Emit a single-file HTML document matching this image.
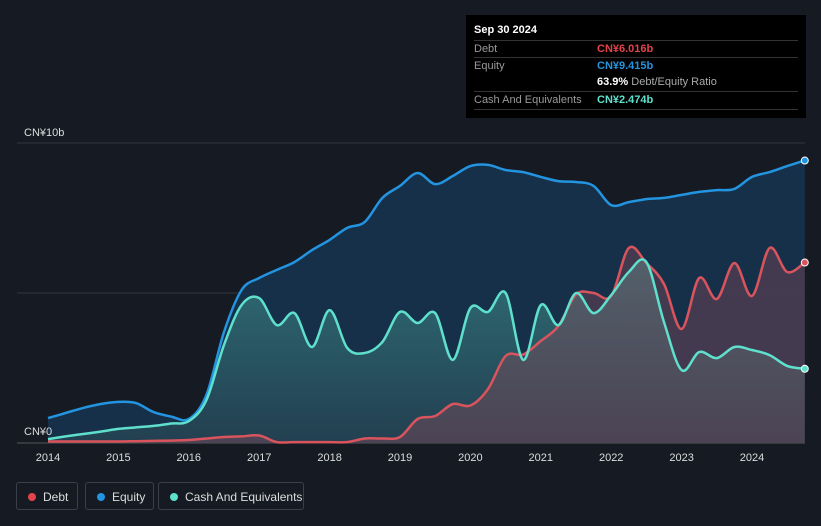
<!DOCTYPE html>
<html><head><meta charset="utf-8"><style>
body{margin:0;background:#151a23;font-family:"Liberation Sans","Noto Sans CJK SC",sans-serif;}
#wrap{position:relative;width:821px;height:526px;overflow:hidden;background:#151a23}
.tt{position:absolute;left:466px;top:15px;width:340px;height:103px;background:#000;color:#fff;font-size:11px}
.tt .row{position:absolute;left:8px;width:324px;border-top:1px solid #333;height:17px;line-height:17px;color:#999}
.tt .v{position:absolute;left:123px}
.leg{position:absolute;top:482px;height:28px;border:1px solid #3a404a;border-radius:3px;color:#ddd;font-size:12px;line-height:28px;box-sizing:border-box;padding-left:26px}
.leg i{position:absolute;left:11px;top:10px;width:8px;height:8px;border-radius:50%}
</style></head><body>
<div id="wrap">
<svg id="svg" width="821" height="526" style="position:absolute;left:0;top:0"></svg>
<div class="tt">
<div style="position:absolute;left:8px;top:9px;font-weight:bold;font-size:11px">Sep 30 2024</div>
<div class="row" style="top:25px">Debt<span class="v" style="color:#e5434a;font-weight:bold">CN¥6.016b</span></div>
<div class="row" style="top:42px">Equity<span class="v" style="color:#2394df;font-weight:bold">CN¥9.415b</span></div>
<div class="row" style="top:59px;border-top:none"><span class="v" style="color:#fff"><b>63.9%</b> <span style="color:#aaa">Debt/Equity Ratio</span></span></div>
<div class="row" style="top:76px">Cash And Equivalents<span class="v" style="color:#5ee0cc;font-weight:bold">CN¥2.474b</span></div>
<div class="row" style="top:94px;height:0"></div>
</div>
<div class="leg" style="left:16px;width:62px"><i style="background:#e5434a"></i>Debt</div>
<div class="leg" style="left:85px;width:69px"><i style="background:#2394df"></i>Equity</div>
<div class="leg" style="left:158px;width:146px"><i style="background:#5ee0cc"></i>Cash And Equivalents</div>
</div>
<script>
const times=[];for(let t=2014;t<=2024.76;t+=0.25)times.push(+t.toFixed(2));
const equity=[0.83,1.0,1.17,1.3,1.37,1.33,1.03,0.88,0.8,1.6,3.7,5.1,5.5,5.77,6.03,6.43,6.77,7.17,7.37,8.17,8.57,9.0,8.63,8.9,9.23,9.27,9.1,9.03,8.87,8.73,8.7,8.57,7.93,8.03,8.13,8.17,8.27,8.37,8.43,8.47,8.87,9.03,9.23,9.415];
const cash=[0.13,0.22,0.3,0.38,0.47,0.52,0.57,0.65,0.73,1.43,3.27,4.6,4.83,3.93,4.33,3.2,4.43,3.17,3.0,3.37,4.37,4.0,4.33,2.77,4.5,4.37,5.0,2.77,4.6,3.93,5.0,4.33,4.93,5.7,6.03,4.03,2.43,3.03,2.83,3.2,3.1,2.93,2.57,2.474];
const debt=[0.05,0.05,0.05,0.05,0.05,0.06,0.07,0.08,0.1,0.15,0.2,0.22,0.25,0.03,0.03,0.03,0.03,0.03,0.15,0.15,0.2,0.8,0.9,1.3,1.25,1.8,2.9,2.95,3.4,3.9,4.95,5.0,4.9,6.5,6.0,5.3,3.8,5.5,4.8,6.0,4.9,6.5,5.7,6.016];
const yTicks=[0,5,10];const xTicks=[2014,2015,2016,2017,2018,2019,2020,2021,2022,2023,2024];
const X=t=>48+(t-2014)*70.4, Y=v=>443-v*30;
const svg=document.getElementById('svg');const NS='http://www.w3.org/2000/svg';
function mk(tag,a){const e=document.createElementNS(NS,tag);for(const k in a)e.setAttribute(k,a[k]);svg.appendChild(e);return e;}
function path(vals){const p=vals.map((v,i)=>[X(times[i]),Y(v)]);let d='M'+p[0][0]+','+p[0][1];
for(let i=0;i<p.length-1;i++){const p0=p[Math.max(0,i-1)],p1=p[i],p2=p[i+1],p3=p[Math.min(p.length-1,i+2)];
d+=`C${p1[0]+(p2[0]-p0[0])/6},${p1[1]+(p2[1]-p0[1])/6} ${p2[0]-(p3[0]-p1[0])/6},${p2[1]-(p3[1]-p1[1])/6} ${p2[0]},${p2[1]}`;}return d;}
const defs=mk('defs',{});defs.innerHTML='<linearGradient id="gc" x1="0" y1="0" x2="0" y2="1"><stop offset="0" stop-color="#3a8a8a" stop-opacity="0.7"/><stop offset="1" stop-color="#2a4a55" stop-opacity="0.6"/></linearGradient>';
yTicks.forEach(v=>{const g=mk('line',{x1:17,x2:805,y1:Y(v),y2:Y(v),stroke:v==0?'#555':'#33383f','stroke-width':1});});
const x0=X(times[0]),x1=X(times[times.length-1]),b=Y(0);
const ea=mk('path',{d:path(equity)+`L${x1},${b}L${x0},${b}Z`,fill:'#17324d',opacity:0.95});
const ca=mk('path',{d:path(cash)+`L${x1},${b}L${x0},${b}Z`,fill:'url(#gc)'});
const da=mk('path',{d:path(debt)+`L${x1},${b}L${x0},${b}Z`,fill:'#8a4a5a',opacity:0.4});
[[equity,'#2394df','equity-line'],[debt,'#d9545c','debt-line'],[cash,'#5ee0cc','cash-line']].forEach(([s,c,n])=>{
const l=mk('path',{d:path(s),fill:'none',stroke:c,'stroke-width':2.5});
const dot=mk('circle',{cx:x1,cy:Y(s[s.length-1]),r:3.5,fill:c,stroke:'#fff','stroke-width':1});});
xTicks.forEach(t=>{const tx=mk('text',{x:X(t),y:461,fill:'#ddd','font-size':11,'text-anchor':'middle'});tx.textContent=t;});
[[10,'CN¥10b',136],[0,'CN¥0',435]].forEach(([v,s,y])=>{const tx=mk('text',{x:24,y:y,fill:'#ddd','font-size':11});tx.textContent=s;});
</script>
</body></html>
